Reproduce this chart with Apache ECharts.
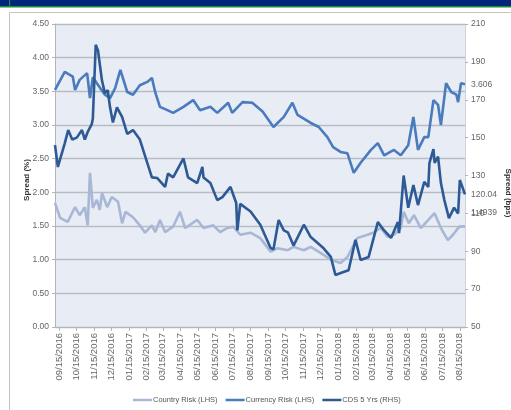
<!DOCTYPE html>
<html>
<head>
<meta charset="utf-8">
<script src="https://cdn.jsdelivr.net/npm/echarts@6/dist/echarts.min.js"></script>
<style>
html,body{margin:0;padding:0;background:#fff;}
#c{width:511px;height:410px;}
</style>
</head>
<body>
<div id="c"></div>
<script>
// ---- data ----
var leftTicks = [0, 0.5, 1, 1.5, 2, 2.5, 3, 3.5, 4, 4.5];
var rightTicks = [50, 70, 90, 110, 130, 150, 170, 190, 210];
var startDate = '2016-09-08';
var endDate = '2018-08-24';

var countryRisk = [
 ['2016-09-08',1.84],['2016-09-17',1.62],['2016-09-30',1.56],['2016-10-13',1.78],['2016-10-21',1.66],
 ['2016-10-30',1.78],['2016-11-04',1.51],['2016-11-08',2.29],['2016-11-13',1.77],['2016-11-20',1.89],
 ['2016-11-25',1.74],['2016-11-29',1.99],['2016-12-08',1.78],['2016-12-16',1.93],['2016-12-27',1.86],
 ['2017-01-03',1.54],['2017-01-09',1.71],['2017-01-22',1.63],['2017-02-03',1.51],['2017-02-12',1.40],
 ['2017-02-24',1.51],['2017-03-02',1.41],['2017-03-10',1.59],['2017-03-19',1.41],['2017-04-02',1.49],
 ['2017-04-14',1.71],['2017-04-23',1.47],['2017-05-14',1.59],['2017-05-25',1.47],['2017-06-11',1.51],
 ['2017-06-23',1.41],['2017-07-05',1.47],['2017-07-16',1.49],['2017-07-28',1.37],['2017-08-15',1.40],
 ['2017-09-01',1.32],['2017-09-19',1.12],['2017-10-01',1.17],['2017-10-19',1.14],['2017-10-29',1.19],
 ['2017-11-16',1.14],['2017-11-28',1.19],['2017-12-15',1.10],['2018-01-02',1.00],['2018-01-19',0.95],
 ['2018-01-31',1.04],['2018-02-17',1.32],['2018-03-07',1.37],['2018-03-17',1.40],['2018-03-30',1.47],
 ['2018-04-11',1.34],['2018-04-22',1.37],['2018-05-04',1.47],['2018-05-09',1.71],['2018-05-18',1.54],
 ['2018-05-27',1.66],['2018-06-08',1.47],['2018-06-21',1.59],['2018-07-02',1.69],['2018-07-13',1.47],
 ['2018-07-25',1.29],['2018-08-03',1.37],['2018-08-14',1.49],['2018-08-24',1.4939]
];

var currencyRisk = [
 ['2016-09-08',3.52],['2016-09-25',3.79],['2016-10-09',3.72],['2016-10-13',3.52],['2016-10-21',3.67],
 ['2016-11-03',3.77],['2016-11-08',3.40],['2016-11-13',3.71],['2016-11-20',3.62],['2016-12-04',3.45],
 ['2016-12-13',3.40],['2016-12-22',3.55],['2016-12-31',3.82],['2017-01-12',3.49],['2017-01-22',3.45],
 ['2017-02-03',3.59],['2017-02-16',3.64],['2017-02-24',3.70],['2017-03-02',3.48],['2017-03-10',3.27],
 ['2017-03-23',3.22],['2017-04-02',3.18],['2017-04-20',3.27],['2017-05-07',3.37],['2017-05-19',3.22],
 ['2017-06-06',3.27],['2017-06-18',3.18],['2017-07-07',3.33],['2017-07-14',3.18],['2017-08-01',3.34],
 ['2017-08-18',3.33],['2017-09-05',3.20],['2017-09-24',2.97],['2017-10-12',3.12],['2017-10-27',3.33],
 ['2017-11-05',3.15],['2017-11-28',3.03],['2017-12-12',2.97],['2017-12-27',2.82],['2018-01-06',2.67],
 ['2018-01-19',2.60],['2018-01-31',2.58],['2018-02-11',2.29],['2018-02-23',2.44],['2018-03-13',2.63],
 ['2018-03-25',2.73],['2018-04-05',2.55],['2018-04-22',2.63],['2018-05-04',2.55],['2018-05-17',2.70],
 ['2018-05-26',3.12],['2018-06-03',2.63],['2018-06-14',2.82],['2018-06-21',2.82],['2018-06-30',3.37],
 ['2018-07-08',3.30],['2018-07-13',3.00],['2018-07-22',3.62],['2018-07-31',3.49],['2018-08-09',3.45],
 ['2018-08-12',3.34],['2018-08-17',3.62],['2018-08-24',3.606]
];

var cds5y = [
 ['2016-09-08',146],['2016-09-13',134.5],['2016-09-25',147],['2016-10-01',154],['2016-10-08',149],
 ['2016-10-16',150],['2016-10-25',154],['2016-10-30',149],['2016-11-04',153],['2016-11-11',157],
 ['2016-11-13',160],['2016-11-18',199],['2016-11-22',196],['2016-11-25',189],['2016-11-29',180],
 ['2016-12-04',173.5],['2016-12-09',175],['2016-12-13',166],['2016-12-18',158],['2016-12-25',166],
 ['2017-01-03',161],['2017-01-12',152],['2017-01-22',154],['2017-02-03',149],['2017-02-16',136.5],
 ['2017-02-24',129],['2017-03-05',128.7],['2017-03-19',124],['2017-03-24',131],['2017-04-02',129],
 ['2017-04-20',139],['2017-04-28',129],['2017-05-14',126],['2017-05-23',134.5],['2017-05-25',129],
 ['2017-06-06',126],['2017-06-18',117],['2017-06-27',118.6],['2017-07-11',124],['2017-07-21',115.5],
 ['2017-07-23',101],['2017-07-28',115],['2017-08-15',111],['2017-09-01',104],['2017-09-19',91.7],
 ['2017-09-24',91],['2017-10-03',106.5],['2017-10-12',101],['2017-10-19',100],['2017-10-29',93],
 ['2017-11-16',104],['2017-11-28',97.5],['2017-12-19',92],['2018-01-02',87],['2018-01-10',77.5],
 ['2018-01-24',79],['2018-02-02',80],['2018-02-14',96],['2018-02-23',85.4],['2018-03-09',87],
 ['2018-03-25',105.4],['2018-04-05',101],['2018-04-17',97],['2018-04-29',105.4],['2018-05-01',99.6],
 ['2018-05-09',130],['2018-05-17',113],['2018-05-26',125],['2018-06-03',114.4],['2018-06-14',126.6],
 ['2018-06-21',124],['2018-06-23',136.6],['2018-06-30',144],['2018-07-02',136.6],['2018-07-08',140],
 ['2018-07-13',126],['2018-07-19',117],['2018-07-27',107.5],['2018-08-05',113],['2018-08-12',110],
 ['2018-08-15',127.6],['2018-08-24',120.04]
];

var seriesNames = ['Country Risk (LHS)', 'Currency Risk (LHS)', 'CDS 5 Yrs (RHS)'];

// ---- daily category axis ----
function buildDays(a, b) {
  var out = [];
  var d = new Date(a + 'T00:00:00Z'), e = new Date(b + 'T00:00:00Z');
  while (d <= e) {
    out.push(d.toISOString().slice(0, 10));
    d.setUTCDate(d.getUTCDate() + 1);
  }
  return out;
}
var days = buildDays(startDate, endDate);
function isMonthTick(idx, val) { return val.slice(8) === '15'; }

var FONT = "'Liberation Sans',sans-serif";
var chart = echarts.init(document.getElementById('c'), null, {renderer: 'canvas'});

chart.setOption({
  backgroundColor: '#ffffff',
  animation: false,
  graphic: [
    {type: 'rect', shape: {x: 9.5, y: 12.5, width: 600, height: 500}, style: {fill: 'none', stroke: '#c4c4c4', lineWidth: 1}, z: -10},
    {type: 'rect', shape: {x: 0, y: 0, width: 511, height: 7}, style: {fill: '#00287a'}, z: 10},
    {type: 'rect', shape: {x: 0, y: 6, width: 511, height: 1.5}, style: {fill: '#1d8a3c'}, z: 11},
    {type: 'rect', shape: {x: 9, y: 0, width: 1.2, height: 7}, style: {fill: '#1d8a3c'}, z: 11},
    {type: 'text', x: 27, y: 180, rotation: Math.PI / 2,
     style: {text: 'Spread (%)', font: "bold 8px " + FONT, fill: '#333', align: 'center', verticalAlign: 'middle'}},
    {type: 'text', x: 508, y: 193, rotation: -Math.PI / 2,
     style: {text: 'Spread (bps)', font: "bold 8px " + FONT, fill: '#333', align: 'center', verticalAlign: 'middle'}}
  ],
  grid: {left: 55, right: 46, top: 24, bottom: 83, show: true, backgroundColor: '#e8ecf4', borderWidth: 0},
  legend: {
    data: seriesNames, bottom: 1, left: 128, icon: 'rect', itemWidth: 19, itemHeight: 2.5, itemGap: 8,
    textStyle: {fontFamily: FONT, fontSize: 7.5, color: '#555', padding: [0, 0, 0, -4]}
  },
  xAxis: {
    type: 'category', data: days, boundaryGap: false,
    axisLine: {show: true, lineStyle: {color: '#b0b4bc', width: 1}},
    axisTick: {show: true, interval: isMonthTick, length: 4, lineStyle: {color: '#b0b4bc'}},
    axisLabel: {interval: isMonthTick, rotate: 90, fontFamily: FONT, fontSize: 9.5, color: '#666', margin: 6,
      formatter: function (v) { return v.slice(5, 7) + '/' + v.slice(8, 10) + '/' + v.slice(0, 4); }},
    splitLine: {show: false}
  },
  yAxis: [
    {type: 'value', min: leftTicks[0], max: leftTicks[leftTicks.length - 1], interval: 0.5,
     axisLine: {show: true, lineStyle: {color: '#b0b4bc'}},
     axisTick: {show: true, length: 3, lineStyle: {color: '#b0b4bc'}},
     axisLabel: {fontFamily: FONT, fontSize: 8.5, color: '#666', margin: 6, formatter: function (v) { return v.toFixed(2); }},
     splitLine: {show: true, lineStyle: {color: '#b8bcc5', width: 1.4}}},
    {type: 'value', min: rightTicks[0], max: rightTicks[rightTicks.length - 1], interval: 20, position: 'right',
     axisLine: {show: true, lineStyle: {color: '#d0d4da'}},
     axisTick: {show: true, length: 3, lineStyle: {color: '#b0b4bc'}},
     axisLabel: {fontFamily: FONT, fontSize: 8.5, color: '#666', margin: 6},
     splitLine: {show: false}}
  ],
  series: [
    {name: seriesNames[0], type: 'line', yAxisIndex: 0, data: countryRisk, showSymbol: false, symbol: 'none',
     lineStyle: {color: '#a8b7d5', width: 2.6}, itemStyle: {color: '#a8b7d5'}, z: 2,
     endLabel: {show: true, formatter: function (p) { return String(p.value[1]); }, distance: 6, offset: [0, -14],
       fontFamily: FONT, fontSize: 8.5, color: '#666'}},
    {name: seriesNames[1], type: 'line', yAxisIndex: 0, data: currencyRisk, showSymbol: false, symbol: 'none',
     lineStyle: {color: '#4a7bbd', width: 2.6}, itemStyle: {color: '#4a7bbd'}, z: 3,
     endLabel: {show: true, formatter: function (p) { return String(p.value[1]); }, distance: 6,
       fontFamily: FONT, fontSize: 8.5, color: '#666'}},
    {name: seriesNames[2], type: 'line', yAxisIndex: 1, data: cds5y, showSymbol: false, symbol: 'none',
     lineStyle: {color: '#2d5a95', width: 2.6}, itemStyle: {color: '#2d5a95'}, z: 4,
     endLabel: {show: true, formatter: function (p) { return String(p.value[1]); }, distance: 6,
       fontFamily: FONT, fontSize: 8.5, color: '#666'}}
  ]
});
</script>
</body>
</html>
